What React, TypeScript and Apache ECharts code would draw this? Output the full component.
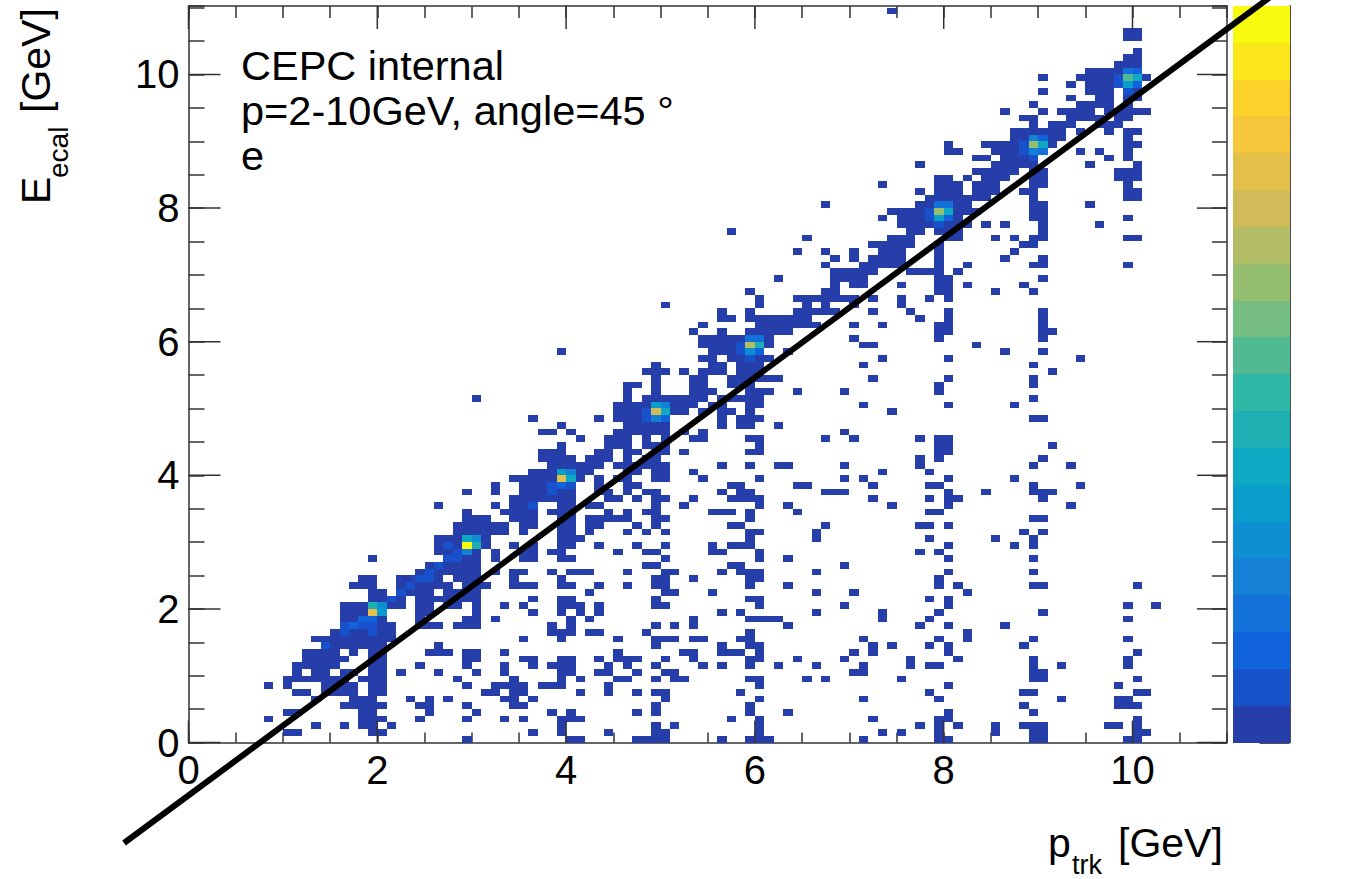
import React, { useEffect, useRef } from "react";
import * as echarts from "echarts";

// Occupied 0.1-wide bins per row of the histogram (index = row, 0.1 high); "a-b" is a run of columns.
const occupiedBinsByRow: string[] = [
  "29 40-41 47-50 56 59-61 71 79-80 89-90 99-100",
  "10-11 19-20 36 39 44 49-50 60 73 75 79 85 89-90 100-101",
  "13 16 18-19 21 39 49 51 60 77 79 81 85 88-90 97-98 100",
  "8 18-20 24 29 33 35 39-41 57 60 72 79-80 100",
  "10-11 18-19 25 30 38 40 47 49 59 63 80 89",
  "16-20 24-25 29 34-35 49 59 88 98-100",
  "13 17-19 23 25 27 33-34 36 50 60 71 79 92 98-99",
  "11-12 14-17 19-20 31-32 34-35 41 44 47 49-50 58 78 88-89 100-101",
  "8 10 14-17 19-20 29 32-35 37-39 44 60 80 98",
  "10-16 18-20 28 34 39 41 45-46 49 51-52 59-60 65 67 75 89-90 100",
  "11 13-14 16-17 19-20 22 26 30 33 39-40 43-44 47 50-51 70-71 89-90",
  "11-15 19-20 24 29 33 36 38-40 44 46 49 54 56 59 62 66 71 76 78-79 89 92 99",
  "12-16 19-20 29-30 35-36 39-40 43 45-47 50 53 59-60 64 69 76 81 89 99",
  "12-15 17 19-20 25-27 29-30 33 45 52-53 56-58 60 70 72 80 100",
  "14-20 26 49 56 59-60 72 74 78 80 88",
  "13-21 35 39 45 49-51 53-54 58-59 71 79 82 89 99",
  "15-21 38-40 42-43 48 59 82",
  "16-21 24-26 28-30 38 40 49 51 53 63 77 80 86",
  "16-20 24 29-30 32 40 42 53 59-62 73 78 99",
  "16-20 24-25 30 36 39 41 43 56 58 66 73 79 90",
  "16-22 24-25 27-28 30 33 35 39-41 43 49-50 60 69 80 99 102",
  "19-22 24-30 36 39-40 49 59-60 78 80",
  "19-20 22-25 27-30 42 50-51 55 66 70 82",
  "17-19 22-27 29-31 34-36 39-40 43 46 49-50 59 63 79 81 89-90 100",
  "18-19 22-26 28-30 34 39 49-50 53 59-60 79",
  "24-30 32 34-35 38 40-42 46 50-51 56 58-60 66 80 89",
  "25-30 48-49 57-58 69",
  "19 27-30 32 35-36 39-40 50 60 63 80 89",
  "26-30 32 35-36 38-39 45 48-49 55-56 60 77 79",
  "26-31 34 36 39-40 43 47 50 55 57-59 80 87 89",
  "26-31 39-41 59 66 78 85 89",
  "28-33 35 39-40 42 46 48 50 59-60 66 88 90",
  "28-33 35-36 39-40 42-43 47 49 57-58 67 77-78 80",
  "29-31 34-36 39-40 42-46 49-50 59 89-90",
  "29 33-36 38-40 44 46 48-49 55-57 59 64 78-79",
  "26 32 34-36 39-40 42-43 49 52 60 63 74 80 93",
  "34-40 44-45 47 49-50 53 57-60 72 78 80-81 90",
  "29 32 35-40 43-44 46 48-49 56 58-59 67-69 80 84 89-91",
  "32 35-40 43 46-47 57-58 64-65 72 78-79 89 94",
  "34-41 43 45-46 49-50 54 60 69 71 80 87",
  "36-42 46-47 49-50 53 73 78",
  "38-43 45-50 56 59 62-63 69 77 89 93",
  "37-40 42-44 46 48-49 77 79 90",
  "37-39 43-44 46-47 49-50 52 59-60 79-80",
  "39 44-46 48-50 60 79-80 91",
  "41 44-46 48 50 53-54 59-60 67 70 77 79-80",
  "37-38 40 45-50 52 54 69",
  "39 46-50 56 58-59 62",
  "36 43 45-50 56 58-60 89-90",
  "45-52 54 56-57 59 74",
  "45-53 55-56 59-60 71 80 87",
  "30 46 48-54 56-60 89",
  "46 49 53-55 59-61 64 69 79",
  "46-47 49 53-54 57-59 79 89",
  "49 53-54 57-62 72 80 89",
  "48-50 52 54-56 58-60 91",
  "49 55-56 58-60 71 89",
  "54-55 57-61 73 80 94",
  "39 55-60 63 86 90",
  "54-61 71-72 83",
  "54-61 70 79 90",
  "53 56 59-63 79-80 90-91",
  "54 60-66 70 73 79-80 90",
  "56-57 59-65 77 80 90",
  "56 59 64-68 72 76 80 90",
  "50 60 65 67 70 75",
  "60 64-70 72 75 78 80",
  "59 67-68 79-80 85 89",
  "68 70-71 75 79-80 82 88",
  "62 68-71 79-80 90",
  "68-72 76-79 81",
  "67 71-75 79 82 89-90 99",
  "68 70 72-75 79 86 90",
  "64 67 70 73-75 79 87",
  "72-76 79 88-89",
  "65 74-76 80-81 85 87 89-90 99-100",
  "57 76-77 79-81 90",
  "75-82 84 86 90 96",
  "73 75-81 89-90 99",
  "74-83 89-90",
  "67 77-82 89-90 95",
  "78-84 89 99-100",
  "77 79-81 83-85 88-89 99-100",
  "73 79-81 83-85 89-90 99",
  "79-80 82 84-86 89-90 98-100",
  "83-87 89-90 98-100",
  "77 85-89 95 100",
  "83-84 86-89 97 99",
  "80-81 85-90 94 96 99",
  "80 84-91 99-100",
  "87-92 99",
  "87-92 94 97 99-100",
  "89 91-93 96-98",
  "88-89 93-96 98-99",
  "86 90 92-95 97-101",
  "89 94-97 99",
  "93 96-97 99-100",
  "90 95-97 99-100",
  "93 95-100",
  "90 94-101",
  "95-100",
  "98-100",
  "99-100",
  "100",
  "",
  "99-100",
  "99-100",
  "",
  "",
  "74",
];

// Bins above the lowest colour level: [column, row, level].
const elevatedBins: [number, number, number][] = [
  [14, 14, 1], [16, 16, 1], [19, 16, 1], [16, 17, 1], [17, 17, 2], [18, 17, 1], [19, 17, 1], [18, 18, 2], [19, 18, 2],
  [19, 19, 15], [20, 19, 6], [19, 20, 8], [20, 20, 5], [21, 21, 1], [22, 22, 1], [23, 23, 1], [24, 24, 1], [25, 24, 1],
  [25, 25, 1], [26, 26, 1], [27, 27, 1], [28, 27, 1], [27, 29, 1], [28, 28, 1], [29, 28, 4], [29, 29, 19], [30, 29, 8],
  [29, 30, 7], [30, 30, 5], [36, 35, 1], [38, 37, 1], [38, 38, 1], [39, 38, 2], [40, 38, 1], [39, 39, 15], [40, 39, 7],
  [39, 40, 6], [40, 40, 4], [48, 48, 1], [49, 48, 4], [50, 48, 2], [48, 49, 1], [49, 49, 14], [50, 49, 7], [49, 50, 6],
  [50, 50, 4], [59, 57, 1], [58, 58, 1], [59, 58, 5], [60, 58, 2], [58, 59, 1], [59, 59, 13], [60, 59, 8], [59, 60, 3],
  [60, 60, 3], [79, 77, 1], [78, 78, 1], [79, 78, 6], [80, 78, 2], [78, 79, 1], [79, 79, 12], [80, 79, 7], [79, 80, 3],
  [80, 80, 3], [89, 87, 1], [88, 88, 1], [89, 88, 4], [90, 88, 3], [88, 89, 1], [89, 89, 12], [90, 89, 7], [89, 90, 4],
  [90, 90, 2], [99, 97, 1], [98, 98, 1], [99, 98, 6], [100, 98, 2], [98, 99, 1], [99, 99, 10], [100, 99, 7], [99, 100, 3],
  [100, 100, 2],
];

const palette: string[] = [
  "#263EAA", "#1752CC", "#1063DC", "#1272D9", "#1481D6", "#0E8FD1", "#099DCC", "#0EA8C2", "#1EAFB3", "#2EB7A4",
  "#52BA92", "#75BD80", "#96BE71", "#B3BD65", "#D1BB59", "#E3C04A", "#F5C63A", "#FDD32B", "#FBE61C", "#F9FB0E",
];

const majorTicks = [0, 2, 4, 6, 8, 10];
const colorBarTicks = [0, 1, 2, 3, 4, 5];
const zMax = 5.65;
const xMax = 11;
const yMax = 11.025;
const diagonal = [[-0.683, -1.504, 11.46, 11.16]];
const annotations = ["CEPC internal", "p=2-10GeV, angle=45 °", "e"];

const BIN = 0.1;
const FONT = "Liberation Sans";
const FRAME = "#333333";

function buildCells(): [number, number, number][] {
  const elevated = new Map<string, number>();
  elevatedBins.forEach(([c, r, l]) => elevated.set(`${c}:${r}`, l));
  const cells: [number, number, number][] = [];
  occupiedBinsByRow.forEach((text, row) => {
    text.split(" ").filter(Boolean).forEach((part) => {
      const [a, b] = part.split("-").map(Number);
      for (let col = a; col <= (b ?? a); col++) cells.push([col, row, elevated.get(`${col}:${row}`) ?? 0]);
    });
  });
  return cells;
}

function axisText(text: string, x: number, y: number, fontSize: number, rotation = 0) {
  return {
    type: "text", x, y, rotation, z: 20,
    style: { text, fontFamily: FONT, fontSize, fill: "#000", textAlign: "left", textVerticalAlign: "middle" },
  };
}

export default function App() {
  const ref = useRef<HTMLDivElement>(null);
  useEffect(() => {
    const chart = echarts.init(ref.current!, null, { renderer: "svg" });
    const minorAxis = (max: number, extra: any) => ({
      type: "value", min: 0, max, interval: 0.5, gridIndex: 0, splitLine: { show: false },
      axisLine: { show: true, onZero: false, lineStyle: { color: FRAME, width: 1.5 } },
      ...extra,
    });
    const labels = {
      show: true, color: "#000", fontFamily: FONT, fontSize: 40,
      formatter: (v: number) => (majorTicks.includes(v) ? String(v) : ""),
    };
    const tickSeries = (axis: "x" | "y") => ({
      type: "custom", xAxisIndex: 0, yAxisIndex: 0, z: 5, silent: true, clip: false,
      data: majorTicks.map((v) => [v]),
      encode: { x: axis === "x" ? 0 : -1, y: axis === "y" ? 0 : -1 },
      renderItem: (_: any, api: any) => {
        const v = api.value(0);
        const style = { stroke: FRAME, lineWidth: 1.5, fill: "none" };
        if (axis === "x") {
          const a = api.coord([v, 0]), b = api.coord([v, yMax]);
          return { type: "group", children: [
            { type: "line", shape: { x1: a[0], y1: a[1], x2: a[0], y2: a[1] - 22 }, style },
            { type: "line", shape: { x1: b[0], y1: b[1], x2: b[0], y2: b[1] + 23 }, style },
          ] };
        }
        const a = api.coord([0, v]), b = api.coord([xMax, v]);
        return { type: "group", children: [
          { type: "line", shape: { x1: a[0], y1: a[1], x2: a[0] + 32, y2: a[1] }, style },
          { type: "line", shape: { x1: b[0], y1: b[1], x2: b[0] - 30, y2: b[1] }, style },
        ] };
      },
    });
    const snappedRect = (p0: number[], p1: number[], color: string) => {
      const x0 = Math.round(p0[0]), x1 = Math.round(p1[0]);
      const y0 = Math.round(p0[1]), y1 = Math.round(p1[1]);
      return {
        type: "rect",
        shape: { x: x0, y: y1, width: x1 - x0, height: y0 - y1 },
        style: { fill: color },
      };
    };
    chart.setOption({
      animation: false,
      backgroundColor: "#fff",
      grid: [
        { left: 188.5, top: 6, width: 1038.4, height: 736.5 },
        { left: 1232.5, top: 6, width: 57, height: 736.5 },
      ],
      xAxis: [
        minorAxis(xMax, { position: "bottom", axisTick: { show: true, inside: true, length: 10, lineStyle: { color: FRAME, width: 1.5 } }, axisLabel: { ...labels, margin: 7 } }),
        minorAxis(xMax, { position: "top", axisTick: { show: true, inside: true, length: 12, lineStyle: { color: FRAME, width: 1.5 } }, axisLabel: { show: false } }),
        { type: "value", gridIndex: 1, min: 0, max: 1, show: false },
      ],
      yAxis: [
        minorAxis(yMax, { position: "left", axisTick: { show: true, inside: true, length: 16, lineStyle: { color: FRAME, width: 1.5 } }, axisLabel: { ...labels, margin: 9 } }),
        minorAxis(yMax, { position: "right", axisTick: { show: true, inside: true, length: 15, lineStyle: { color: FRAME, width: 1.5 } }, axisLabel: { show: false } }),
        {
          type: "value", gridIndex: 1, min: 0, max: zMax, position: "right", splitLine: { show: false },
          axisLine: { show: true, onZero: false, lineStyle: { color: "#111", width: 1.5 } },
          axisTick: { show: true, inside: true, length: 30, customValues: colorBarTicks, lineStyle: { color: "#111", width: 1.5 } },
          axisLabel: { show: false },
        },
      ],
      series: [
        {
          type: "custom", xAxisIndex: 0, yAxisIndex: 0, z: 2, silent: true,
          data: buildCells(), encode: { x: 0, y: 1 },
          renderItem: (_: any, api: any) => {
            const c = api.value(0), r = api.value(1);
            return snappedRect(
              api.coord([c * BIN, r * BIN]),
              api.coord([(c + 1) * BIN, (r + 1) * BIN]),
              palette[api.value(2)],
            );
          },
        },
        {
          type: "custom", xAxisIndex: 2, yAxisIndex: 2, z: 2, silent: true,
          data: palette.map((_, i) => [i]), encode: { y: 0 },
          renderItem: (_: any, api: any) => {
            const i = api.value(0);
            const step = zMax / palette.length;
            return snappedRect(api.coord([0, i * step]), api.coord([1, (i + 1) * step]), palette[i]);
          },
        },
        tickSeries("x"),
        tickSeries("y"),
        {
          type: "custom", xAxisIndex: 0, yAxisIndex: 0, z: 10, silent: true, clip: false,
          data: diagonal, encode: { x: [0, 2], y: [1, 3] },
          renderItem: (_: any, api: any) => {
            const a = api.coord([api.value(0), api.value(1)]);
            const b = api.coord([api.value(2), api.value(3)]);
            return {
              type: "line", z2: 50,
              shape: { x1: a[0], y1: a[1], x2: b[0], y2: b[1] },
              style: { stroke: "#000", lineWidth: 6, fill: "none" },
            };
          },
        },
      ],
      graphic: [
        ...annotations.map((t, i) => axisText(t, 241, 65 + i * 45, 41.5)),
        axisText("p", 1048, 843, 41),
        axisText("trk", 1072, 865, 27),
        axisText("[GeV]", 1118, 843, 41),
        axisText("E", 36, 204, 41, Math.PI / 2),
        axisText("ecal", 58, 178, 28, Math.PI / 2),
        axisText("[GeV]", 36, 113, 41, Math.PI / 2),
      ],
    });
    return () => chart.dispose();
  }, []);
  return <div ref={ref} style={{ position: "fixed", left: 0, top: 0, width: 1360, height: 879 }} />;
}
